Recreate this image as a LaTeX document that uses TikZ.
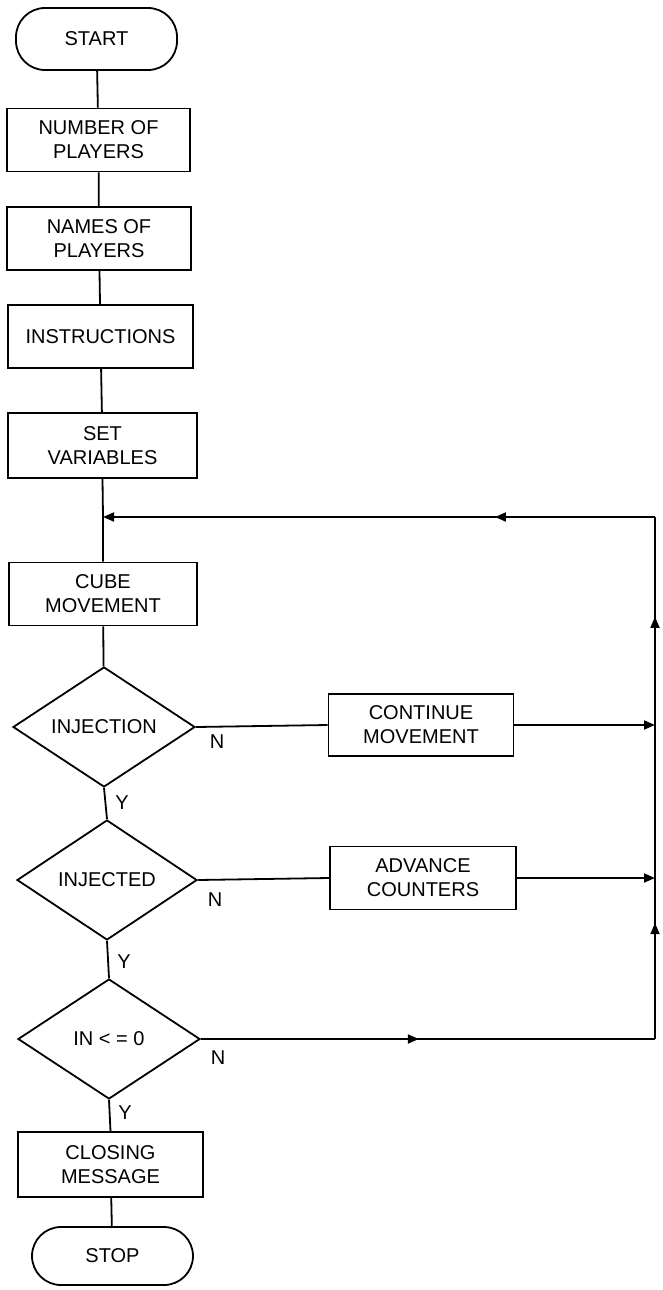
\documentclass[tikz,border=0pt]{standalone}
\usepackage{fontspec}
\setmainfont{Liberation Sans}
\usetikzlibrary{shapes.geometric,arrows.meta,decorations.markings}
\tikzset{
  base/.style={draw, line width=1.8pt, align=center, inner sep=0pt, font=\fontsize{20}{24}\selectfont},
  term/.style={base, rectangle, rounded corners=29pt, minimum width=161pt, minimum height=62pt},
  procbox/.style={base, rectangle, minimum width=185pt, minimum height=63pt},
  decis/.style={base, diamond, minimum width=182pt, minimum height=120pt},
  lbl/.style={inner sep=0pt, font=\fontsize{20}{24}\selectfont},
  conn/.style={line width=1.8pt},
  tipa/.style={-{Triangle[length=11pt,width=9pt]}},
  midarrow/.style={postaction={decorate}, decoration={markings, mark=at position #1 with {\arrow{Triangle[length=11pt,width=9pt]}}}}
}
\begin{document}
\begin{tikzpicture}[x=1pt,y=-1pt]
\useasboundingbox (0,0) rectangle (662,1290);
\node[term] (start) at (96.5,39) {START};
\node[procbox, minimum width=183pt] (n1) at (98.5,140) {NUMBER OF\\PLAYERS};
\node[procbox, minimum width=184pt] (n2) at (99,238.5) {NAMES OF\\PLAYERS};
\node[procbox] (n3) at (100.5,336.5) {INSTRUCTIONS};
\node[procbox, minimum width=189pt, minimum height=65pt] (n4) at (102.5,445.5) {SET\\VARIABLES};
\node[procbox, minimum width=188pt] (n5) at (103,594) {CUBE\\MOVEMENT};
\node[decis] (d1) at (104,727) {INJECTION};
\node[procbox, minimum height=62pt] (c1) at (421,725) {CONTINUE\\MOVEMENT};
\node[decis, minimum width=180pt] (d2) at (107,880) {INJECTED};
\node[procbox, minimum width=186pt] (c2) at (423,878) {ADVANCE\\COUNTERS};
\node[decis] (d3) at (109,1039) {IN < = 0};
\node[procbox, minimum height=65pt] (n6) at (110.5,1164.5) {CLOSING\\MESSAGE};
\node[term, minimum height=58pt] (stop) at (112.5,1256) {STOP};

\coordinate (join) at (103,517);
\coordinate (tr) at (655,517);
\coordinate (cj) at (655,725);
\coordinate (aj) at (655,878);
\coordinate (br) at (655,1039);

\draw[conn] (start) -- (n1);
\draw[conn] (n1) -- (n2);
\draw[conn] (n2) -- (n3);
\draw[conn] (n3) -- (n4);
\draw[conn] (n4.south) -- (join) -- (n5.north);
\draw[conn] (n5) -- (d1);
\draw[conn] (d1.south) -- (d2.north);
\draw[conn] (d2.south) -- (d3.north);
\draw[conn] (d3.south) -- (n6.north);
\draw[conn] (n6) -- (stop);

\draw[conn] (d1.east) -- (c1.west);
\draw[conn, tipa] (c1.east) -- (cj);
\draw[conn] (d2.east) -- (c2.west);
\draw[conn, tipa] (c2.east) -- (aj);
\draw[conn, midarrow=0.48] (d3.east) -- (br);
\draw[conn, midarrow=0.72] (br) -- (aj);
\draw[conn] (aj) -- (cj);
\draw[conn, midarrow=0.52] (cj) -- (tr);
\draw[conn, tipa, midarrow=0.29] (tr) -- (join);

\node[lbl] (ln1) at (217,742) {N};
\node[lbl] (ln2) at (215,900) {N};
\node[lbl] (ln3) at (218,1058) {N};
\node[lbl] (ly1) at (122,803) {Y};
\node[lbl] (ly2) at (124,962) {Y};
\node[lbl] (ly3) at (125,1113) {Y};
\end{tikzpicture}
\end{document}
